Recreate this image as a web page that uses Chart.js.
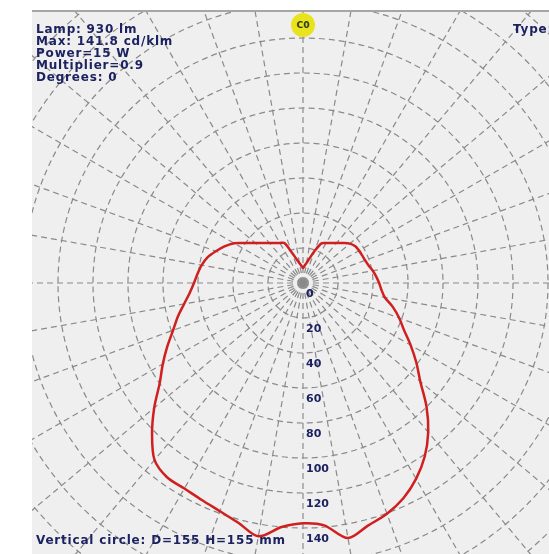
<!DOCTYPE html>
<html>
<head>
<meta charset="utf-8">
<script src="https://cdn.jsdelivr.net/npm/chart.js@4.4.1/dist/chart.umd.min.js"></script>
<style>
  html, body { margin: 0; padding: 0; background: #fff; width: 549px; height: 554px; overflow: hidden; }
  #panel { position: absolute; left: 32px; top: 10px; width: 517px; height: 544px; background: #efefef;
           border-top: 2px solid #a6a6a6; box-sizing: border-box; overflow: hidden; }
  #wrap { position: absolute; left: -149px; top: -149px; width: 840px; height: 840px; }
  .txt { position: absolute; font: bold 12px "DejaVu Sans", sans-serif; color: #1c2260; line-height: 14px; white-space: nowrap; letter-spacing: 0.8px; }
  #c0 { position: absolute; left: 291px; top: 13px; width: 24px; height: 24px; border-radius: 50%; background: #e9e21f;
        font: bold 9px "DejaVu Sans", sans-serif; color: #2a3a10; text-align: center; line-height: 24px; }
</style>
</head>
<body>
<div id="panel">
  <div id="wrap"><canvas id="polar" width="840" height="840"></canvas></div>
</div>
<div class="txt" style="left:36px;top:22px">Lamp: 930 lm</div>
<div class="txt" style="left:36px;top:34px">Max: 141.8 cd/klm</div>
<div class="txt" style="left:36px;top:46px">Power=15 W</div>
<div class="txt" style="left:36px;top:58px">Multiplier=0.9</div>
<div class="txt" style="left:36px;top:70px">Degrees: 0</div>
<div class="txt" style="left:513px;top:22px">Type: C</div>
<div id="c0">C0</div>
<div class="txt" style="left:36px;top:533px">Vertical circle: D=155 H=155 mm</div>

<script>
// vertical angle labels, 0 = straight down, going round clockwise
const angles = [];
for (let a = 0; a < 360; a += 5) angles.push(a + '°');

// intensity (cd/klm), one value per 5 degrees
const intensity = [
  137.3, 140, 147, 142, 138.8, 136.8, 135.6, 135.5, 132, 122,
  111, 100, 92.5, 85.5, 79, 74, 69, 65, 62.3, 60.5,
  58.8, 56.5, 53, 49.5, 45.5, 39.9, 35.6, 32.3, 29.8, 27.9,
  26.4, 25.2, 18.4, 14.1, 11.5, 9.8, 8.6,
  9.9, 11.7, 14.7, 19.6, 25, 26.4, 27.9, 29.8, 32.3,
  35, 36.5, 37, 37.3, 37.8, 38.8, 40.5, 42, 43.5, 45,
  47.5, 53.2, 58.5, 63.7, 71, 79, 87.5, 99.8, 111.3, 121.2,
  129.2, 135.7, 140.3, 143.5, 148, 139
];

// radial tick labels shown under the centre
const tickLabels = [0, 20, 40, 60, 80, 100, 120, 140];

const gridGray = '#8a8a8a';

// draws the radius values down the vertical axis
const radiusLabels = {
  id: 'radiusLabels',
  afterDraw(chart) {
    const r = chart.scales.r;
    const ctx = chart.ctx;
    ctx.save();
    ctx.font = 'bold 11px "DejaVu Sans", sans-serif';
    ctx.fillStyle = '#1c2260';
    ctx.textAlign = 'left';
    ctx.textBaseline = 'middle';
    tickLabels.forEach(v => {
      const d = r.getDistanceFromCenterForValue(v);
      ctx.fillText(String(v), r.xCenter + 3, r.yCenter + d + 11);
    });
    ctx.restore();
  }
};

new Chart(document.getElementById('polar'), {
  type: 'radar',
  data: {
    labels: angles,
    datasets: [{
      data: intensity,
      borderColor: '#cf1f1f',
      borderWidth: 2.5,
      fill: false,
      pointRadius: 0,
      tension: 0.3
    }]
  },
  options: {
    responsive: false,
    animation: false,
    layout: { padding: 0 },
    plugins: { legend: { display: false }, tooltip: { enabled: false } },
    scales: {
      r: {
        min: 0,
        max: 240,
        startAngle: 180,
        ticks: { display: false, stepSize: 20 },
        pointLabels: { display: false },
        grid: { circular: true, color: gridGray, lineWidth: 1.2 },
        border: { dash: [6, 4] },
        angleLines: {
          color: gridGray,
          lineWidth: ctx => (ctx.index % 2 === 0 ? 1.2 : 0),
          borderDash: [6, 4]
        }
      }
    }
  },
  plugins: [radiusLabels]
});
</script>
</body>
</html>
